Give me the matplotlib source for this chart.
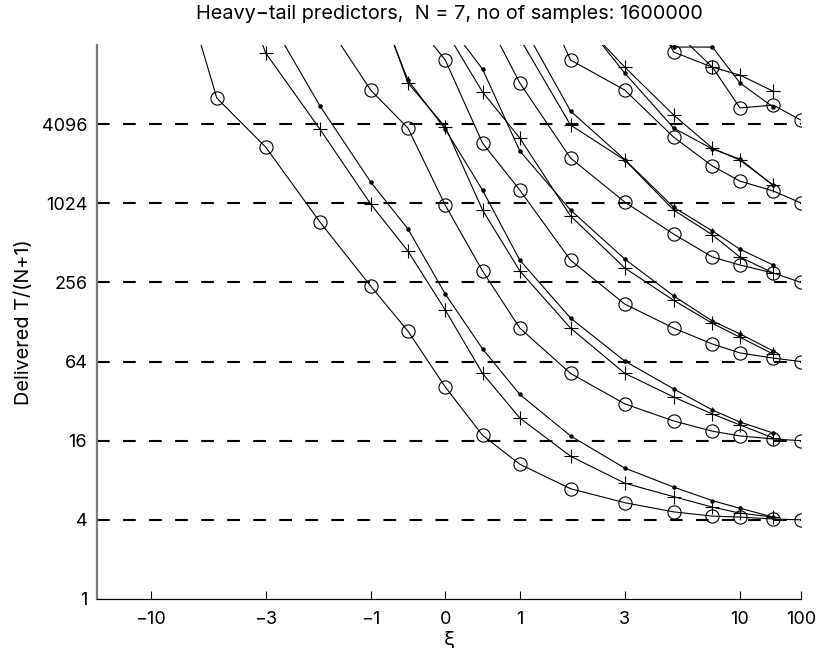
import numpy as np
import matplotlib
matplotlib.use("Agg")
import matplotlib.pyplot as plt
from matplotlib.ticker import FixedLocator, FixedFormatter, NullLocator

n = np.nan
xi = [-7.5, -5, -3, -1.7, -1, -0.5, 0, 0.5, 1, 1.7, 3, 5, 7.5, 10, 35, 100]

# level 4 group
g1_circle = [64000, 6470, 2740, 737, 240, 109, 41, 17.6, 10.6, 6.9, 5.4, 4.6, 4.27, 4.2, 4.06, 4.0]
g1_plus = [n, 145000, 14260, 3750, 1010, 443, 158, 52, 23.8, 12.2, 7.6, 6.0, 5.0, 4.5, 4.2, n]
g1_dot = [n, n, 29100, 5630, 1487, 653, 209, 80, 36, 17.4, 9.9, 7.1, 5.6, 4.9, 4.2, n]
# level 16 group
g2_circle = [n, n, n, 28500, 7430, 3820, 990, 313, 115, 52, 30.5, 22.6, 18.9, 17.4, 16.5, 16]
g2_plus = [n, n, n, n, 51000, 8420, 3900, 910, 313, 115, 52, 34.4, 25.5, 21.1, 16.8, n]
g2_dot = [n, n, n, n, 47000, 8850, 3750, 1290, 378, 137, 64.5, 39.6, 27.4, 22.2, 18.3, n]
# level 64 group
g3_circle = [n, n, n, n, n, 28500, 12600, 2940, 1290, 378, 175, 115, 87, 74.5, 68, 64]
g3_plus = [n, n, n, n, n, n, 21300, 7190, 3210, 820, 329, 187, 125, 98, 73, n]
g3_dot = [n, n, n, n, n, n, 25400, 10740, 2560, 910, 385, 202, 130, 104, 77, n]
# level 256 group
g4_circle = [n, n, n, n, n, n, n, 29700, 8420, 2260, 1045, 597, 399, 347, 302, 256]
g4_plus = [n, n, n, n, n, n, n, n, 18400, 4030, 2180, 910, 588, 399, 302, n]
g4_dot = [n, n, n, n, n, n, n, n, 25400, 5150, 2200, 955, 630, 458, 347, n]
# level 1024 group
g5_circle = [n, n, n, n, n, n, n, n, 86000, 12600, 7430, 3260, 1965, 1510, 1270, 1030]
g5_plus = [n, n, n, n, n, n, n, n, n, 30200, 11100, 4800, 2690, 2180, 1410, n]
g5_dot = [n, n, n, n, n, n, n, n, n, 32800, 10000, 3820, 2650, 2220, 1400, n]
# level 4096 group
g6_circle = [n, n, n, n, n, n, n, n, n, n, 72000, 14470, 11100, 5440, 5720, 4390]
g6_plus = [n, n, n, n, n, n, n, n, n, n, n, 21300, 11100, 9670, 7290, n]
g6_dot = [n, n, n, n, n, n, n, n, n, n, 25400, 15800, 15800, 8420, 5520, n]

ref_levels = [4, 16, 64, 256, 1024, 4096]
xtick_vals = [-10, -3, -1, 0, 1, 3, 10, 100]
xtick_labels = ["\u221210", "\u22123", "\u22121", "0", "1", "3", "10", "100"]
ytick_vals = [1, 4, 16, 64, 256, 1024, 4096]
ytick_labels = ["1", "4", "16", "64", "256", "1024", "4096"]

# axis transform: linear in |xi|<=1, logarithmic beyond, compressed beyond 10
K1 = 2.953
K2 = 0.819


def fwd(x):
    x = np.asarray(x, dtype=float)
    a = np.abs(x)
    with np.errstate(divide="ignore", invalid="ignore"):
        la = np.log10(np.maximum(a, 1e-12))
        u = np.where(a <= 1, a, np.where(a <= 10, 1 + K1 * la, 1 + K1 + K2 * (la - 1)))
    return np.sign(x) * u


def inv(u):
    u = np.asarray(u, dtype=float)
    b = np.abs(u)
    a = np.where(b <= 1, b,
                 np.where(b <= 1 + K1, 10 ** ((b - 1) / K1), 10 ** (1 + (b - 1 - K1) / K2)))
    return np.sign(u) * a


plt.rcParams["font.family"] = ["Inter", "DejaVu Sans"]
fig = plt.figure(figsize=(8.22, 6.55), dpi=100)
ax = fig.add_axes([0.118, 0.0855, 0.8565, 0.8458])

for lv in ref_levels:
    ax.axhline(lv, color="k", lw=1.5, linestyle=(0, (6.1, 6.4)), zorder=1)

groups = [
    (g1_circle, g1_plus, g1_dot),
    (g2_circle, g2_plus, g2_dot),
    (g3_circle, g3_plus, g3_dot),
    (g4_circle, g4_plus, g4_dot),
    (g5_circle, g5_plus, g5_dot),
    (g6_circle, g6_plus, g6_dot),
]
for c, p, d in groups:
    ax.plot(xi, c, "-", color="k", lw=0.8, marker="o", ms=9.5, mfc="none", mew=0.8, zorder=3)
    ax.plot(xi, p, "-", color="k", lw=0.8, marker="+", ms=9.5, mew=0.8, zorder=3)
    ax.plot(xi, d, "-", color="k", lw=0.8, marker=".", ms=4.5, zorder=3)

ax.set_xscale("function", functions=(fwd, inv))
ax.set_yscale("log", base=2)
ax.set_xlim(-75.3, 100)
ax.set_ylim(1, 16384)

ax.xaxis.set_major_locator(FixedLocator(xtick_vals))
ax.xaxis.set_major_formatter(FixedFormatter(xtick_labels))
ax.xaxis.set_minor_locator(NullLocator())
ax.yaxis.set_major_locator(FixedLocator(ytick_vals))
ax.yaxis.set_major_formatter(FixedFormatter(ytick_labels))
ax.yaxis.set_minor_locator(NullLocator())

ax.tick_params(axis="x", direction="in", length=6, width=0.8, labelsize=13, pad=9)
ax.tick_params(axis="y", direction="in", length=0, labelsize=13, pad=7)
for s in ("top", "right"):
    ax.spines[s].set_visible(False)
ax.spines["bottom"].set_linewidth(0.9)
ax.spines["left"].set_color("#7a7a7a")
ax.spines["left"].set_linewidth(1.6)

ax.set_xlabel("\u03be", fontsize=14.3, labelpad=2)
ax.set_ylabel("Delivered T/(N+1)", fontsize=14.3, labelpad=6)
ax.set_title("Heavy\u2212tail predictors,  N = 7, no of samples: 1600000", fontsize=14.3, pad=18.5)

fig.savefig("out.png", dpi=100)
